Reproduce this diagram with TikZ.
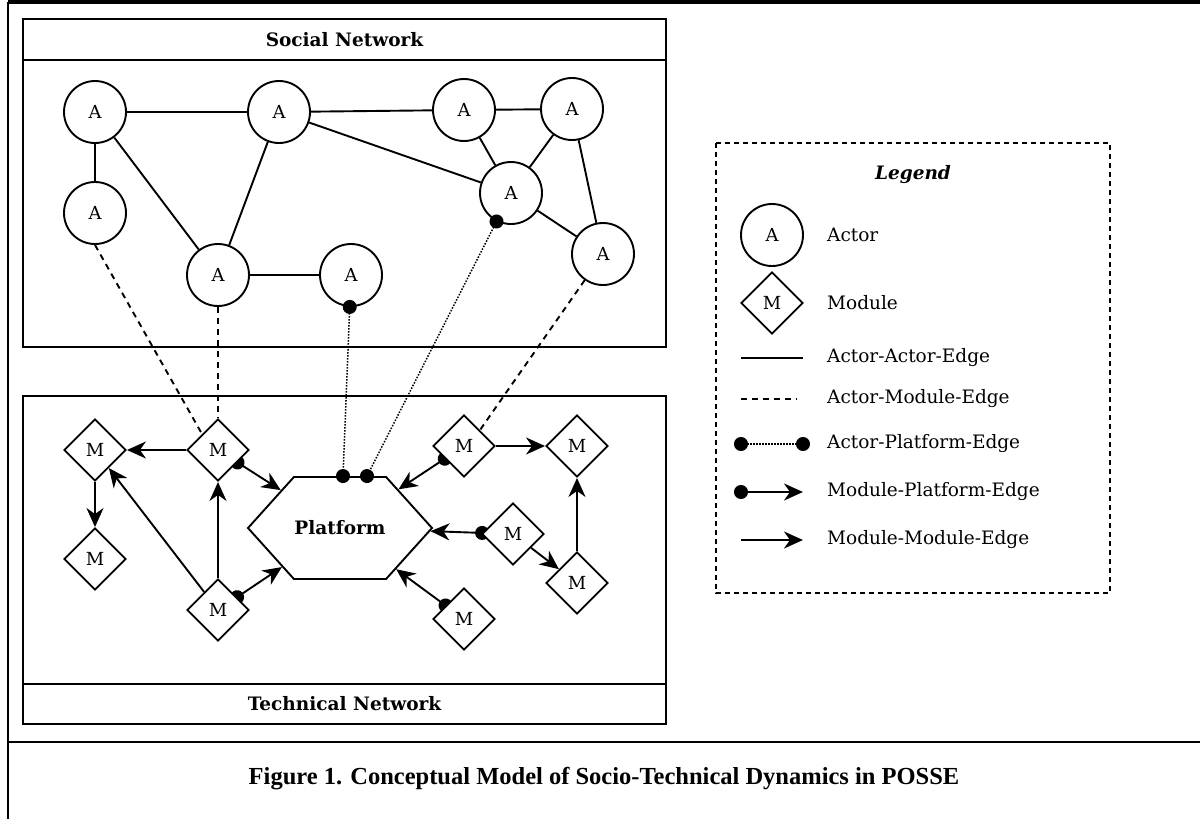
\documentclass[tikz,border=0pt]{standalone}
\usepackage{fontspec}
\setmainfont{DejaVu Serif}
\newfontfamily\capfont{Liberation Serif}
\usetikzlibrary{shapes.geometric, shapes.symbols, arrows.meta, backgrounds}

\tikzset{
  actor/.style={circle, draw, line width=1.9pt, minimum size=62pt, inner sep=0pt, font=\fontsize{18}{20}\selectfont},
  module/.style={diamond, draw, fill=white, line width=1.9pt, minimum size=62pt, inner sep=0pt, font=\fontsize{18}{20}\selectfont},
  platform/.style={signal, signal to=west and east, signal pointer angle=96, draw, line width=1.9pt,
    minimum width=184pt, minimum height=102pt, inner sep=0pt, font=\fontsize{18.5}{22}\selectfont\bfseries},
  boxtitle/.style={font=\fontsize{18.5}{22}\selectfont\bfseries},
  keytext/.style={anchor=west, inner sep=0pt, font=\fontsize{18.5}{22}\selectfont},
  aaedge/.style={line width=1.9pt},
  amedge/.style={line width=1.9pt, dash pattern=on 6pt off 5pt},
  apedge/.style={line width=1.5pt, dash pattern=on 1.5pt off 1.5pt,
    {Circle[length=14pt]}-{Circle[length=14pt]}, shorten <=-7pt, shorten >=-7pt},
  mpedge/.style={line width=1.9pt, {Circle[length=14pt]}-{Stealth[length=19pt,width=17pt,inset=6pt]}, shorten <=-7pt},
  mmedge/.style={line width=1.9pt, -{Stealth[length=19pt,width=17pt,inset=6pt]}},
  frame/.style={line width=2.5pt},
  netbox/.style={line width=2.2pt},
  keybox/.style={line width=2pt, dash pattern=on 5pt off 4pt}
}

\begin{document}
\begin{tikzpicture}[x=1pt, y=-1pt]
    \useasboundingbox (0,0) rectangle (1200,819);

    % table frame
    \draw[frame, line width=3.5pt] (8,2) -- (1200,2);
    \draw[frame] (8,2) -- (8,819);
    \draw[frame] (8,742) -- (1200,742);

    % Social network
    \draw[netbox] (23,19) rectangle (666,347);
    \draw[netbox] (23,60) -- (666,60);
    \node[boxtitle] (socialtitle) at (344.5,40) {Social Network};

    \node[actor] (a1) at (95,112) {A};
    \node[actor] (a2) at (95,213) {A};
    \node[actor] (a3) at (279,112) {A};
    \node[actor] (a4) at (218,275) {A};
    \node[actor] (a5) at (351,275) {A};
    \node[actor] (a6) at (464,110) {A};
    \node[actor] (a7) at (572,109) {A};
    \node[actor] (a8) at (511,193) {A};
    \node[actor] (a9) at (603,254) {A};

    % Technical network
    \draw[netbox] (23,396) rectangle (666,724);
    \draw[netbox] (23,684) -- (666,684);
    \node[boxtitle] (techtitle) at (344.5,704) {Technical Network};

    \node[platform] (plat) at (340,528) {Platform};
    \coordinate (p1) at ([xshift=3pt]plat.north);
    \coordinate (p2) at ([xshift=27pt]plat.north);

    \node[module] (m1) at (95,450) {M};
    \node[module] (m2) at (218,450) {M};
    \node[module] (m3) at (95,559) {M};
    \node[module] (m4) at (218,610) {M};
    \node[module] (m5) at (464,446) {M};
    \node[module] (m6) at (577,446) {M};
    \node[module] (m7) at (513,534) {M};
    \node[module] (m8) at (577,583) {M};
    \node[module] (m9) at (464,619) {M};

    \begin{scope}[on background layer]
        % Actor-Actor
        \foreach \u/\v in {a1/a2, a1/a3, a1/a4, a3/a4, a4/a5, a3/a6, a3/a8, a6/a7, a6/a8, a7/a8, a7/a9, a8/a9}
            \draw[aaedge] (\u) -- (\v);

        % Actor-Module
        \draw[amedge] (a2.south) -- (m2.north west);
        \draw[amedge] (a4) -- (m2);
        \draw[amedge] (a9) -- (m5.north east);

        % Actor-Platform
        \draw[apedge] (a5) -- (p1);
        \draw[apedge] (a8) -- (p2);

        % Module-Platform
        \foreach \m in {m2, m4, m5, m7, m9}
            \draw[mpedge] (\m) -- (plat);

        % Module-Module
        \foreach \u/\v in {m2/m1, m1/m3, m4/m2, m4/m1, m5/m6, m8/m6, m7/m8}
            \draw[mmedge] (\u) -- (\v);
    \end{scope}

    % Legend
    \draw[keybox] (716,143) rectangle (1110,593);
    \node[font=\fontsize{18.5}{22}\selectfont\bfseries\itshape] (keytitle) at (913,175) {Legend};

    \node[actor] (keyactor) at (772,235) {A};
    \node[module] (keymodule) at (772,303) {M};
    \coordinate (k1a) at (741,358); \coordinate (k1b) at (803,358);
    \coordinate (k2a) at (741,399); \coordinate (k2b) at (797,399);
    \coordinate (k3a) at (741,444); \coordinate (k3b) at (803,444);
    \coordinate (k4a) at (741,492); \coordinate (k4b) at (803,492);
    \coordinate (k5a) at (741,540); \coordinate (k5b) at (803,540);

    \draw[aaedge] (k1a) -- (k1b);
    \draw[amedge] (k2a) -- (k2b);
    \draw[apedge] (k3a) -- (k3b);
    \draw[mpedge] (k4a) -- (k4b);
    \draw[mmedge] (k5a) -- (k5b);

    \node[keytext] (keyt1) at (827,235) {Actor};
    \node[keytext] (keyt2) at (827,303) {Module};
    \node[keytext] (keyt3) at (827,358) {Actor-Actor-Edge};
    \node[keytext] (keyt4) at (827,399) {Actor-Module-Edge};
    \node[keytext] (keyt5) at (827,444) {Actor-Platform-Edge};
    \node[keytext] (keyt6) at (827,492) {Module-Platform-Edge};
    \node[keytext] (keyt7) at (827,540) {Module-Module-Edge};

    % caption
    \node[font=\capfont\fontsize{24.5}{28}\selectfont\bfseries] (caption) at (604,779)
        {Figure 1. Conceptual Model of Socio-Technical Dynamics in POSSE};
\end{tikzpicture}
\end{document}
